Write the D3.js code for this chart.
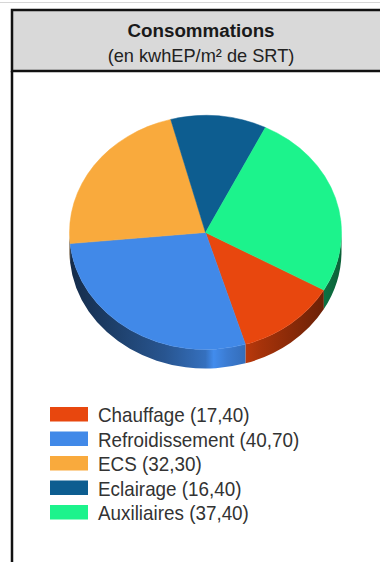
<!DOCTYPE html>
<html>
<head>
<meta charset="utf-8">
<script src="https://cdn.jsdelivr.net/npm/d3@7/dist/d3.min.js"></script>
<style>
  html, body { margin: 0; padding: 0; background: #fff; }
  svg { display: block; }
  text { font-family: "Liberation Sans", Arial, sans-serif; }
</style>
</head>
<body>
<svg id="chart" width="380" height="562"></svg>
<script>
// Energy consumption breakdown (kWhEP/m² of SRT)
const categories = ["Chauffage", "Refroidissement", "ECS", "Eclairage", "Auxiliaires"];
const values = [17.40, 40.70, 32.30, 16.40, 37.40];
const valueLabels = ["17,40", "40,70", "32,30", "16,40", "37,40"];
const colors = ["#e8470e", "#4189e8", "#f9aa3d", "#0d5d90", "#1cf38c"];
const title = "Consommations";
const subtitle = "(en kwhEP/m² de SRT)";

const svg = d3.select("#chart");
const W = 380, H = 562;

// faint page edge at the very top
svg.append("line").attr("x1", 0).attr("x2", W).attr("y1", 2.5).attr("y2", 2.5)
  .attr("stroke", "#d6d6d6").attr("stroke-width", 1);

// header band and frame
const frame = { x: 12, top: 10, headBottom: 71, right: 392 };
svg.append("rect")
  .attr("x", frame.x).attr("y", frame.top)
  .attr("width", frame.right - frame.x).attr("height", frame.headBottom - frame.top)
  .attr("fill", "#d9d9d9").attr("stroke", "#111").attr("stroke-width", 2.5);
svg.append("line")
  .attr("x1", frame.x).attr("x2", frame.x)
  .attr("y1", frame.headBottom).attr("y2", H + 2)
  .attr("stroke", "#111").attr("stroke-width", 2.5);

svg.append("text").attr("x", 201).attr("y", 36.5)
  .attr("text-anchor", "middle").attr("font-size", 18.8).attr("font-weight", "bold")
  .attr("fill", "#1a1a1a").text(title);
svg.append("text").attr("x", 201).attr("y", 61.5)
  .attr("text-anchor", "middle").attr("font-size", 18.2)
  .attr("fill", "#222").text(subtitle);

// ---- 3D pie ----
const cx = 205.5, cy = 232.5, rx = 136, ry = 117, depth = 19;
const color = d3.scaleOrdinal().domain(categories).range(colors);

const start = 119.5 * Math.PI / 180;
const pie = d3.pie().sort(null).value(d => d.value)
  .startAngle(start).endAngle(start + 2 * Math.PI);
const data = categories.map((c, i) => ({ name: c, value: values[i], label: valueLabels[i] }));
const arcs = pie(data);

const pt = (a, dy = 0) => [cx + rx * Math.sin(a), cy - ry * Math.cos(a) + dy];

function topPath(a0, a1) {
  const p0 = pt(a0), p1 = pt(a1);
  const large = (a1 - a0) > Math.PI ? 1 : 0;
  return `M${cx},${cy}L${p0[0]},${p0[1]}A${rx},${ry} 0 ${large} 1 ${p1[0]},${p1[1]}Z`;
}
function sidePath(a0, a1) {
  const p0 = pt(a0), p1 = pt(a1), q0 = pt(a0, depth), q1 = pt(a1, depth);
  return `M${p0[0]},${p0[1]}A${rx},${ry} 0 0 1 ${p1[0]},${p1[1]}` +
         `L${q1[0]},${q1[1]}A${rx},${ry} 0 0 0 ${q0[0]},${q0[1]}Z`;
}

// visible (front) part of the rim: angles between 90° and 270°, modulo a turn
function frontPieces(a0, a1) {
  const out = [];
  for (const k of [-1, 0, 1]) {
    const lo = Math.PI / 2 + k * 2 * Math.PI, hi = 3 * Math.PI / 2 + k * 2 * Math.PI;
    const s = Math.max(a0, lo), e = Math.min(a1, hi);
    if (e > s) out.push([s, e]);
  }
  return out;
}

// cylinder shading: dark at the edges, highlight a little right of centre
const defs = svg.append("defs");
const shade = [[0, 0.32], [0.12, 0.42], [0.35, 0.62], [0.5, 0.82], [0.53, 1.02], [0.58, 0.9], [0.7, 0.72], [0.88, 0.52], [1, 0.4]];
arcs.forEach((d, i) => {
  const base = d3.rgb(color(d.data.name));
  const g = defs.append("linearGradient").attr("id", "side" + i)
    .attr("gradientUnits", "userSpaceOnUse")
    .attr("x1", cx - rx).attr("x2", cx + rx).attr("y1", 0).attr("y2", 0);
  shade.forEach(([o, f]) => {
    const c = d3.rgb(Math.min(255, base.r * f), Math.min(255, base.g * f), Math.min(255, base.b * f));
    g.append("stop").attr("offset", o).attr("stop-color", c.formatHex());
  });
});

const sides = svg.append("g");
arcs.forEach((d, i) => {
  frontPieces(d.startAngle, d.endAngle).forEach(([s, e]) => {
    sides.append("path").attr("d", sidePath(s, e)).attr("fill", `url(#side${i})`);
  });
});

svg.append("g").selectAll("path").data(arcs).join("path")
  .attr("d", d => topPath(d.startAngle, d.endAngle))
  .attr("fill", d => color(d.data.name))
  .attr("stroke", d => color(d.data.name)).attr("stroke-width", 0.5);

// ---- legend ----
const rows = d3.scaleBand().domain(categories).range([407, 529.5]).paddingInner(0);
const legend = svg.append("g").selectAll("g").data(data).join("g")
  .attr("transform", d => `translate(50,${rows(d.name)})`);
legend.append("rect").attr("width", 38).attr("height", 14.5)
  .attr("fill", d => color(d.name));
legend.append("text")
  .attr("transform", "translate(48,15) scale(0.92,1)")
  .attr("font-size", 20.5).attr("fill", "#333")
  .text(d => `${d.name} (${d.label})`);
</script>
</body>
</html>
